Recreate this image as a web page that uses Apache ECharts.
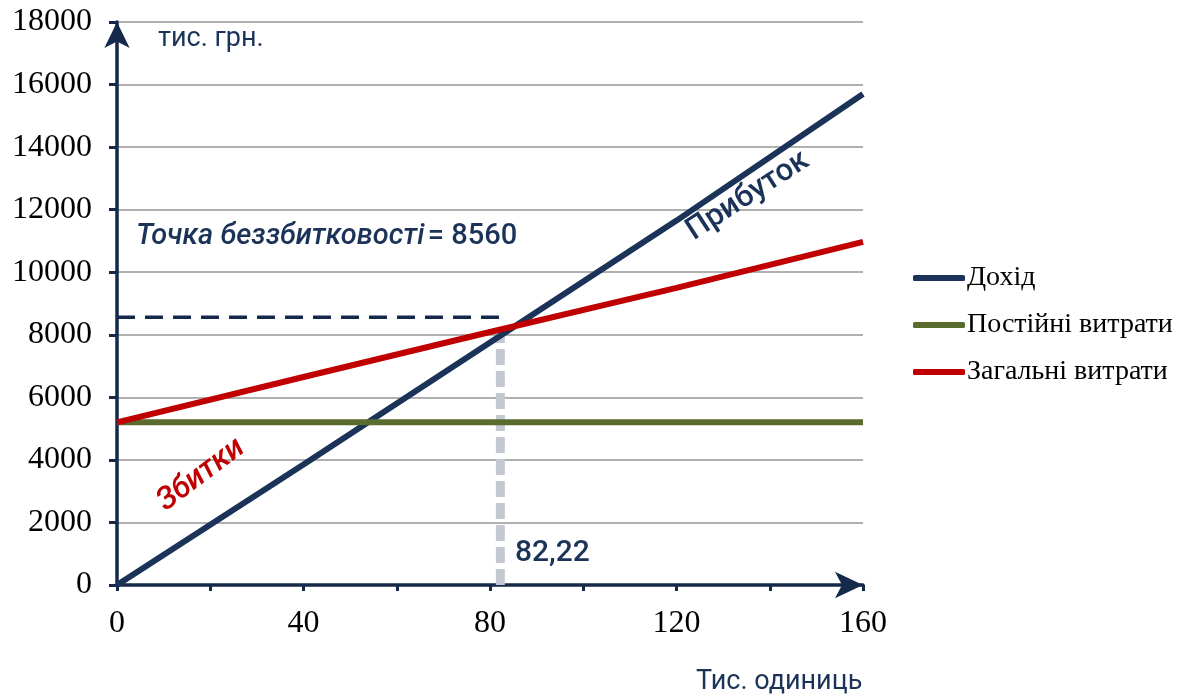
<!DOCTYPE html>
<html>
<head>
<meta charset="utf-8">
<script src="https://cdn.jsdelivr.net/npm/echarts@6/dist/echarts.min.js"></script>
<style>
  html, body { margin: 0; padding: 0; background: #fff; }
  #chart { width: 1192px; height: 699px; }
</style>
</head>
<body>
<div id="chart"></div>
<script>
// Output volume, thousand units
const quantity = [0, 40, 80, 120, 160];
// Values in thousand UAH
const revenue = [0, 3850, 7750, 11650, 15700];
const fixedCosts = [5200, 5200, 5200, 5200, 5200];
const totalCosts = [5200, 6650, 8090, 9500, 10970];

const seriesNames = ['Дохід', 'Постійні витрати', 'Загальні витрати'];
const breakEvenQty = 82.22;
const breakEvenValue = 8560;

const NAVY = '#1b3358';
const AXIS = '#15294a';
const GREEN = '#5a6b2e';
const RED = '#c00000';
const SERIF = '"Liberation Serif", "DejaVu Serif", serif';
const SANS = 'Roboto, "Noto Sans", sans-serif';

const pairs = ys => quantity.map((x, i) => [x, ys[i]]);

// height of the total-cost line where the vertical guide meets it
function costAt(x) {
  for (let i = 1; i < quantity.length; i++) {
    if (x <= quantity[i]) {
      const t = (x - quantity[i - 1]) / (quantity[i] - quantity[i - 1]);
      return totalCosts[i - 1] + t * (totalCosts[i] - totalCosts[i - 1]);
    }
  }
  return totalCosts[totalCosts.length - 1];
}

const chart = echarts.init(document.getElementById('chart'), null, { renderer: 'canvas' });

chart.setOption({
  animation: false,
  backgroundColor: '#fff',
  grid: { left: 117, right: 329, top: 22, bottom: 114, containLabel: false },
  xAxis: {
    type: 'value', min: 0, max: 160, interval: 20,
    axisLine: { show: true, lineStyle: { color: AXIS, width: 3.5 },
      symbol: ['none', 'arrow'], symbolSize: [20, 28] },
    axisTick: { show: true, inside: false, length: 6, lineStyle: { color: AXIS, width: 3 } },
    axisLabel: { margin: 23, color: '#000', fontFamily: SERIF, fontSize: 32,
      formatter: v => (v % 40 === 0 ? String(v) : '') },
    splitLine: { show: false }
  },
  yAxis: {
    type: 'value', min: 0, max: 18000, interval: 2000,
    axisLine: { show: true, lineStyle: { color: AXIS, width: 3.5 },
      symbol: ['none', 'arrow'], symbolSize: [19, 26] },
    axisTick: { show: true, inside: false, length: 8, lineStyle: { color: AXIS, width: 3 } },
    axisLabel: { margin: 25, color: '#000', fontFamily: SERIF, fontSize: 32,
      formatter: v => String(v) },
    splitLine: { show: true, lineStyle: { color: '#969696', width: 1.6 } }
  },
  legend: {
    orient: 'vertical', left: 908, top: 259,
    data: seriesNames,
    icon: 'roundRect', itemWidth: 52, itemHeight: 6, itemGap: 19,
    textStyle: { fontFamily: SERIF, fontSize: 28, color: '#000', padding: [0, 0, 0, -3] }
  },
  series: [
    {
      name: 'guide-v', type: 'line', silent: true, symbol: 'none', z: 1,
      data: [[breakEvenQty, 0], [breakEvenQty, costAt(breakEvenQty)]],
      lineStyle: { color: '#c4c8d0', width: 9, type: [16, 6] }
    },
    {
      name: 'guide-h', type: 'line', silent: true, symbol: 'none', z: 2,
      data: [[0, breakEvenValue], [breakEvenQty, breakEvenValue]],
      lineStyle: { color: AXIS, width: 3.5, type: [18, 10] }
    },
    {
      name: seriesNames[0], type: 'line', symbol: 'none', z: 3,
      data: pairs(revenue), color: NAVY,
      lineStyle: { color: NAVY, width: 6 }
    },
    {
      name: seriesNames[1], type: 'line', symbol: 'none', z: 3,
      data: pairs(fixedCosts), color: GREEN,
      lineStyle: { color: GREEN, width: 6 }
    },
    {
      name: seriesNames[2], type: 'line', symbol: 'none', z: 4,
      data: pairs(totalCosts), color: RED,
      lineStyle: { color: RED, width: 6 }
    }
  ],
  graphic: [
    { type: 'text', left: 158, top: 26, z: 10,
      style: { text: 'тис. грн.', fontFamily: SANS, fontSize: 27, fill: NAVY } },
    { type: 'text', left: 696, top: 669, z: 10,
      style: { text: 'Тис. одиниць', fontFamily: SANS, fontSize: 27, fill: NAVY } },
    { type: 'text', left: 136, top: 222, z: 10,
      style: { text: '{i|Точка беззбитковості} {n|= 8560}',
        rich: {
          i: { fontFamily: SANS, fontSize: 29, fontStyle: 'italic', fontWeight: 500, fill: NAVY },
          n: { fontFamily: SANS, fontSize: 29, fontWeight: 500, fill: NAVY }
        } } },
    { type: 'text', left: 515, top: 538, z: 10,
      style: { text: '82,22', fontFamily: SANS, fontSize: 30, fontWeight: 500, fill: NAVY } },
    { type: 'text', x: 748, y: 196, rotation: 33 * Math.PI / 180, z: 10,
      style: { text: 'Прибуток', fontFamily: SANS, fontSize: 31, fontWeight: 500, fill: NAVY,
        align: 'center', verticalAlign: 'middle' } },
    { type: 'text', x: 201, y: 475, rotation: 37 * Math.PI / 180, z: 10,
      style: { text: 'Збитки', fontFamily: SANS, fontSize: 31, fontStyle: 'italic', fontWeight: 500, fill: RED,
        align: 'center', verticalAlign: 'middle' } }
  ]
});
</script>
</body>
</html>
